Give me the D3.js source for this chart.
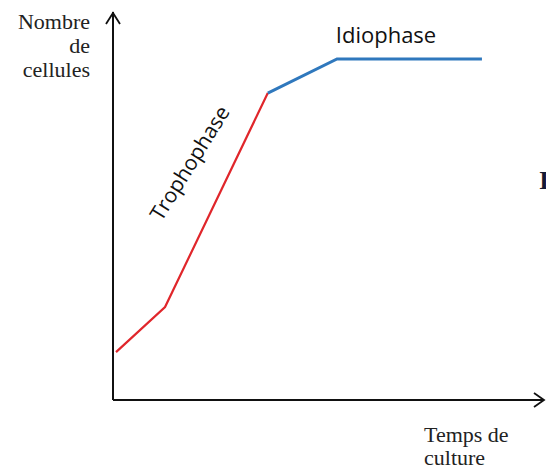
<!DOCTYPE html>
<html>
<head>
<meta charset="utf-8">
<script src="https://cdn.jsdelivr.net/npm/d3@7"></script>
<style>
  body { margin: 0; background: #fff; }
</style>
</head>
<body>
<script>
var width = 546,
  height = 470;

// time (x) and cell count (y), arbitrary units 0-100
var trophoTime = [0.7, 12.1, 36.0];
var trophoCount = [12.2, 23.7, 78.3];
var idioTime = [36.0, 52.1, 85.8];
var idioCount = [78.3, 87.0, 87.0];

var yLabel = ["Nombre", "de", "cellules"];
var xLabel = ["Temps de", "culture"];

var svg = d3.select('body').append('svg')
  .attr('width', width)
  .attr('height', height);

var x = d3.scaleLinear().domain([0, 100]).range([113, 543]);
var y = d3.scaleLinear().domain([0, 100]).range([400, 8]);

var line = d3.line()
  .x(function(d) { return x(d[0]); })
  .y(function(d) { return y(d[1]); });

// axes
svg.append("line")
  .attr("x1", x(0)).attr("y1", y(0))
  .attr("x2", x(0)).attr("y2", y(99))
  .attr("stroke", "#111").attr("stroke-width", 2);
svg.append("line")
  .attr("x1", x(0)).attr("y1", y(0))
  .attr("x2", x(100)).attr("y2", y(0))
  .attr("stroke", "#111").attr("stroke-width", 2);

// arrow heads
svg.append("path")
  .attr("d", "M" + (x(0) - 7) + "," + (y(99) + 12) + "L" + x(0) + "," + (y(99) + 1) + "L" + (x(0) + 7) + "," + (y(99) + 12))
  .attr("fill", "none").attr("stroke", "#111").attr("stroke-width", 1.8);
svg.append("path")
  .attr("d", "M" + (x(100) - 9) + "," + (y(0) - 7) + "L" + (x(100) + 1) + "," + y(0) + "L" + (x(100) - 9) + "," + (y(0) + 7))
  .attr("fill", "none").attr("stroke", "#111").attr("stroke-width", 1.8);

// curves
svg.append("path")
  .datum(d3.zip(trophoTime, trophoCount))
  .attr("d", line)
  .attr("fill", "none")
  .attr("stroke", "#e0262b")
  .attr("stroke-width", 2.2);

svg.append("path")
  .datum(d3.zip(idioTime, idioCount))
  .attr("d", line)
  .attr("fill", "none")
  .attr("stroke", "#2f78bd")
  .attr("stroke-width", 3);

// phase labels
svg.append("text")
  .attr("x", 386).attr("y", 43)
  .attr("text-anchor", "middle")
  .style("font-family", "'Open Sans', sans-serif")
  .style("font-size", "22px")
  .attr("fill", "#111")
  .text("Idiophase");

svg.append("text")
  .attr("transform", "translate(196,167) rotate(-58)")
  .attr("text-anchor", "middle")
  .style("font-family", "'Open Sans', sans-serif")
  .style("font-size", "21px")
  .attr("fill", "#111")
  .text("Trophophase");

// axis labels
svg.append("text")
  .attr("x", 90).attr("y", 29)
  .attr("text-anchor", "end")
  .style("font-family", "'Liberation Serif', serif")
  .style("font-size", "22px")
  .attr("fill", "#222")
  .selectAll("tspan")
  .data(yLabel)
  .enter().append("tspan")
    .attr("x", 90)
    .attr("dy", function(d, i) { return i ? 24 : 0; })
    .text(function(d) { return d; });

svg.append("text")
  .attr("x", 424).attr("y", 442)
  .style("font-family", "'Liberation Serif', serif")
  .style("font-size", "22px")
  .attr("fill", "#222")
  .selectAll("tspan")
  .data(xLabel)
  .enter().append("tspan")
    .attr("x", 424)
    .attr("dy", function(d, i) { return i ? 23 : 0; })
    .text(function(d) { return d; });

// cut-off letter at right edge
svg.append("text")
  .attr("x", 539).attr("y", 189)
  .style("font-family", "'Liberation Serif', serif")
  .style("font-weight", "bold")
  .style("font-size", "26px")
  .attr("fill", "#141a33")
  .text("I");
</script>
</body>
</html>
